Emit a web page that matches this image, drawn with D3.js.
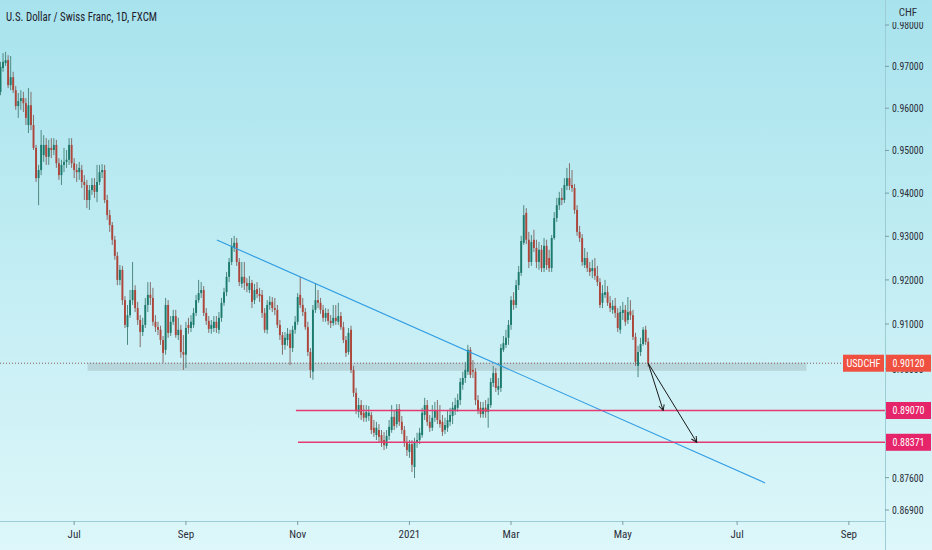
<!DOCTYPE html>
<html><head><meta charset="utf-8">
<script src="https://cdn.jsdelivr.net/npm/d3@7/dist/d3.min.js"></script>
<style>html,body{margin:0;padding:0;overflow:hidden;background:#c4eef4}</style>
</head><body><svg id="c" width="932" height="550"></svg>
<script>
// ---- data (USDCHF daily) ----
const open=[.9639,.9696,.9708,.9715,.9655,.9674,.9643,.9605,.9617,.9624,.9612,.9560,.9607,.9560,.9506,.9435,.9454,.9489,.9513,.9485,
.9506,.9501,.9513,.9470,.9442,.9466,.9473,.9478,.9513,.9470,.9454,.9449,.9454,.9426,.9419,.9384,.9407,.9419,.9403,.9426,
.9449,.9454,.9384,.9349,.9326,.9292,.9255,.9200,.9223,.9154,.9093,.9120,.9154,.9177,.9136,.9109,.9082,.9098,.9143,.9166,
.9159,.9105,.9093,.9087,.9064,.9042,.9143,.9080,.9105,.9118,.9075,.9087,.9037,.9031,.9098,.9091,.9098,.9125,.9154,.9170,
.9177,.9125,.9107,.9089,.9091,.9105,.9087,.9114,.9148,.9172,.9207,.9241,.9273,.9285,.9241,.9191,.9207,.9193,.9177,.9193,
.9154,.9179,.9168,.9166,.9125,.9087,.9143,.9150,.9136,.9132,.9098,.9075,.9053,.9064,.9078,.9046,.9087,.9105,.9166,.9143,
.9127,.9093,.9037,.8993,.9132,.9154,.9148,.9132,.9114,.9125,.9107,.9102,.9114,.9105,.9118,.9093,.9064,.9037,.9087,.8997,
.8946,.8904,.8919,.8902,.8891,.8895,.8897,.8869,.8853,.8864,.8853,.8842,.8829,.8851,.8864,.8893,.8877,.8910,.8882,.8864,
.8836,.8816,.8833,.8783,.8836,.8842,.8853,.8897,.8919,.8882,.8869,.8891,.8908,.8886,.8882,.8864,.8869,.8882,.8895,.8908,
.8913,.8930,.8964,.8979,.8993,.9042,.8997,.8993,.8930,.8913,.8899,.8913,.8904,.8919,.8968,.8990,.8953,.8957,.9042,.9053,
.9069,.9098,.9154,.9143,.9188,.9216,.9285,.9354,.9292,.9241,.9292,.9273,.9241,.9269,.9227,.9278,.9250,.9227,.9296,.9342,
.9372,.9389,.9384,.9417,.9435,.9419,.9412,.9361,.9310,.9296,.9234,.9250,.9227,.9220,.9227,.9209,.9195,.9148,.9166,.9172,
.9148,.9132,.9141,.9125,.9087,.9125,.9132,.9109,.9129,.9120,.9071,.9006,.9037,.9055,.9087,.9060];
const high=[.9711,.9732,.9735,.9727,.9725,.9687,.9653,.9636,.9643,.9639,.9624,.9648,.9639,.9584,.9513,.9466,.9548,.9536,.9529,.9525,
.9529,.9529,.9525,.9482,.9478,.9506,.9501,.9529,.9529,.9482,.9468,.9473,.9466,.9442,.9431,.9419,.9435,.9435,.9466,.9466,
.9468,.9466,.9396,.9361,.9333,.9301,.9264,.9234,.9232,.9163,.9143,.9177,.9241,.9188,.9150,.9120,.9114,.9159,.9195,.9195,
.9182,.9120,.9105,.9096,.9073,.9159,.9154,.9118,.9132,.9132,.9114,.9098,.9075,.9105,.9114,.9120,.9136,.9166,.9200,.9195,
.9186,.9136,.9118,.9109,.9118,.9118,.9127,.9159,.9182,.9218,.9250,.9296,.9301,.9296,.9250,.9241,.9241,.9204,.9209,.9200,
.9191,.9195,.9182,.9177,.9136,.9154,.9163,.9161,.9159,.9143,.9109,.9082,.9082,.9091,.9087,.9096,.9118,.9170,.9207,.9159,
.9136,.9105,.9046,.9143,.9193,.9177,.9159,.9143,.9136,.9134,.9120,.9143,.9143,.9148,.9127,.9105,.9073,.9091,.9096,.9006,
.8957,.8935,.8930,.8919,.8919,.8917,.8904,.8886,.8882,.8877,.8864,.8860,.8864,.8886,.8919,.8908,.8921,.8921,.8895,.8873,
.8851,.8842,.8842,.8847,.8858,.8869,.8913,.8935,.8930,.8897,.8919,.8926,.8930,.8919,.8897,.8891,.8908,.8913,.8926,.8935,
.8944,.8979,.8993,.9015,.9053,.9048,.9019,.9001,.8941,.8926,.8926,.8930,.8935,.8979,.9006,.9001,.8979,.9055,.9073,.9087,
.9109,.9163,.9172,.9200,.9232,.9301,.9372,.9365,.9310,.9303,.9315,.9292,.9287,.9280,.9296,.9292,.9269,.9303,.9356,.9389,
.9403,.9412,.9435,.9459,.9470,.9454,.9421,.9372,.9324,.9305,.9273,.9264,.9241,.9246,.9250,.9232,.9204,.9188,.9200,.9186,
.9163,.9154,.9159,.9136,.9141,.9150,.9143,.9161,.9154,.9132,.9080,.9051,.9069,.9093,.9096,.9069];
const low=[.9631,.9687,.9701,.9648,.9643,.9636,.9596,.9577,.9596,.9591,.9560,.9541,.9548,.9501,.9426,.9372,.9442,.9473,.9466,.9466,
.9482,.9489,.9459,.9431,.9419,.9449,.9459,.9466,.9459,.9435,.9426,.9431,.9412,.9384,.9365,.9361,.9396,.9389,.9379,.9419,
.9435,.9377,.9338,.9310,.9280,.9246,.9188,.9188,.9143,.9091,.9053,.9114,.9143,.9127,.9098,.9048,.9073,.9091,.9127,.9143,
.9096,.9082,.9075,.9053,.9013,.9031,.9069,.9073,.9098,.9069,.9064,.9024,.8997,.9001,.9078,.9082,.9091,.9118,.9148,.9159,
.9118,.9098,.9080,.9078,.9082,.9080,.9078,.9105,.9141,.9163,.9195,.9234,.9264,.9232,.9186,.9182,.9177,.9172,.9170,.9136,
.9145,.9159,.9150,.9114,.9080,.9078,.9132,.9127,.9120,.9091,.9064,.9031,.9042,.9051,.9008,.9037,.9078,.9098,.9136,.9118,
.9087,.9028,.8979,.8975,.9125,.9136,.9123,.9105,.9105,.9098,.9091,.9096,.9098,.9098,.9087,.9057,.9026,.9031,.8990,.8937,
.8899,.8891,.8886,.8882,.8882,.8884,.8855,.8849,.8842,.8838,.8827,.8820,.8823,.8842,.8858,.8864,.8869,.8873,.8855,.8827,
.8807,.8803,.8772,.8759,.8825,.8833,.8847,.8886,.8873,.8860,.8862,.8882,.8877,.8869,.8851,.8855,.8860,.8873,.8877,.8897,
.8904,.8919,.8953,.8968,.8986,.8979,.8979,.8919,.8899,.8891,.8891,.8891,.8869,.8913,.8959,.8948,.8941,.8948,.9037,.9046,
.9053,.9087,.9132,.9136,.9177,.9209,.9280,.9282,.9227,.9232,.9264,.9227,.9223,.9218,.9218,.9223,.9218,.9218,.9292,.9333,
.9361,.9372,.9377,.9407,.9407,.9403,.9352,.9301,.9287,.9232,.9227,.9218,.9209,.9204,.9200,.9186,.9136,.9136,.9159,.9141,
.9127,.9123,.9114,.9082,.9078,.9109,.9096,.9100,.9109,.9064,.9006,.8981,.9028,.9051,.9053,.9004];
const close=[.9699,.9711,.9715,.9655,.9674,.9643,.9605,.9617,.9624,.9612,.9577,.9607,.9560,.9506,.9435,.9454,.9513,.9513,.9485,.9506,
.9501,.9513,.9470,.9442,.9466,.9473,.9478,.9513,.9470,.9454,.9449,.9459,.9426,.9419,.9384,.9407,.9419,.9403,.9426,.9449,
.9454,.9384,.9349,.9326,.9292,.9255,.9200,.9223,.9154,.9098,.9120,.9154,.9177,.9136,.9109,.9082,.9098,.9143,.9166,.9159,
.9105,.9093,.9087,.9064,.9035,.9143,.9080,.9105,.9118,.9075,.9087,.9037,.9031,.9091,.9091,.9105,.9125,.9154,.9170,.9177,
.9125,.9107,.9089,.9098,.9105,.9091,.9114,.9148,.9172,.9207,.9241,.9278,.9285,.9241,.9195,.9207,.9193,.9186,.9193,.9150,
.9177,.9168,.9163,.9125,.9087,.9143,.9150,.9136,.9132,.9098,.9075,.9053,.9069,.9078,.9046,.9087,.9105,.9161,.9143,.9127,
.9093,.9037,.8997,.9132,.9154,.9148,.9132,.9114,.9125,.9107,.9102,.9114,.9107,.9118,.9093,.9064,.9035,.9080,.8997,.8946,
.8908,.8919,.8897,.8891,.8904,.8902,.8864,.8858,.8869,.8849,.8838,.8831,.8851,.8871,.8893,.8873,.8910,.8882,.8864,.8836,
.8820,.8833,.8788,.8838,.8842,.8858,.8902,.8919,.8882,.8869,.8891,.8908,.8886,.8877,.8860,.8875,.8886,.8897,.8913,.8919,
.8930,.8970,.8979,.8997,.9042,.8986,.8993,.8930,.8908,.8899,.8913,.8904,.8921,.8970,.8990,.8957,.8961,.9046,.9057,.9069,
.9098,.9154,.9143,.9188,.9218,.9289,.9349,.9292,.9241,.9287,.9273,.9241,.9269,.9227,.9278,.9234,.9227,.9296,.9342,.9372,
.9389,.9384,.9419,.9435,.9417,.9412,.9361,.9310,.9296,.9241,.9250,.9227,.9218,.9227,.9209,.9195,.9143,.9170,.9172,.9148,
.9136,.9141,.9125,.9091,.9127,.9132,.9105,.9127,.9120,.9071,.9015,.9037,.9055,.9087,.9060,.9012];

const timeLabels=["Jul","Sep","Nov","2021","Mar","May","Jul","Sep"];
const timeLabelBar=[29,73,117,161,201,245,290,334];
const priceTicks=[0.98,0.97,0.96,0.95,0.94,0.93,0.92,0.91,0.90,0.89,0.876,0.869];
const symbol="USDCHF";
const lastPrice=0.9012;
const levelPrices=[0.8907,0.88371];
const levelStartBar=[116.3,117.1];
const trendBar=[85.2,301];
const trendPrice=[0.92915,0.87485];
const zoneBar=[34.3,317.3];
const zonePrice=[0.9013,0.8995];
const arrowEndBar=[260.9,274.1];
const arrowEndPrice=[0.8907,0.88371];
const title="U.S. Dollar / Swiss Franc, 1D, FXCM";

// ---- layout ----
const W=932,H=550, axisX=885, axisY=521;
const svg=d3.select("#c");
const FONT="'Liberation Sans Narrow','Roboto Condensed','Liberation Sans',Arial,sans-serif";
const x=d3.scaleLinear().domain([0,255]).range([0.5,0.5+2.54*255]);
const y=d3.scaleLog().domain([0.869,0.98]).range([510,25]);

const defs=svg.append("defs");
const g=defs.append("linearGradient").attr("id","bg").attr("x1",0).attr("y1",0).attr("x2",0).attr("y2",1);
g.append("stop").attr("offset","0%").attr("stop-color","#a8e3ed");
g.append("stop").attr("offset","100%").attr("stop-color","#ddf7fa");
defs.append("clipPath").attr("id","plot").append("rect").attr("x",0).attr("y",0).attr("width",axisX).attr("height",axisY);
defs.append("clipPath").attr("id","scale").append("rect").attr("x",axisX).attr("y",22).attr("width",W-axisX).attr("height",axisY-22);
const mk=defs.append("marker").attr("id","ah").attr("viewBox","0 0 10 10").attr("refX",9).attr("refY",5)
  .attr("markerWidth",7).attr("markerHeight",7).attr("orient","auto").attr("markerUnits","userSpaceOnUse");
mk.append("path").attr("d","M1,1 L9,5 L1,9").attr("fill","none").attr("stroke","#1a1a1a").attr("stroke-width",1.4);

svg.append("rect").attr("width",W).attr("height",H).attr("fill","url(#bg)");

const plot=svg.append("g").attr("clip-path","url(#plot)");

// zone
plot.append("rect").attr("x",x(zoneBar[0])).attr("width",x(zoneBar[1])-x(zoneBar[0]))
  .attr("y",y(zonePrice[0])).attr("height",y(zonePrice[1])-y(zonePrice[0]))
  .attr("fill","#8f9ea6").attr("opacity",0.32);
// last price dotted line
plot.append("line").attr("x1",0).attr("x2",843).attr("y1",y(lastPrice)).attr("y2",y(lastPrice))
  .attr("stroke","#8a5a5a").attr("stroke-width",1).attr("stroke-dasharray","1,2");

// candles
const idx=d3.range(close.length);
const up=i=>close[i]>=open[i];
plot.append("g").selectAll("line").data(idx).join("line")
  .attr("x1",i=>x(i)).attr("x2",i=>x(i)).attr("y1",i=>y(high[i])).attr("y2",i=>y(low[i]))
  .attr("stroke",i=>up(i)?"#4f8a82":"#856e6a").attr("stroke-width",1);
plot.append("g").selectAll("rect").data(idx).join("rect")
  .attr("x",i=>x(i)-0.95).attr("width",1.9)
  .attr("y",i=>y(Math.max(open[i],close[i])))
  .attr("height",i=>Math.max(0.8,Math.abs(y(open[i])-y(close[i]))))
  .attr("fill",i=>up(i)?"#1b7a6c":"#ad453a");

// trend line
plot.append("line").attr("x1",x(trendBar[0])).attr("y1",y(trendPrice[0]))
  .attr("x2",x(trendBar[1])).attr("y2",y(trendPrice[1]))
  .attr("stroke","#2e9be3").attr("stroke-width",1.1);
// levels
levelPrices.forEach((p,k)=>{
  plot.append("line").attr("x1",x(levelStartBar[k])).attr("x2",axisX).attr("y1",y(p)).attr("y2",y(p))
    .attr("stroke","#e33a72").attr("stroke-width",1.5);
});
// arrows
arrowEndBar.forEach((b,k)=>{
  plot.append("line").attr("x1",x(255)).attr("y1",y(lastPrice)).attr("x2",x(b)).attr("y2",y(arrowEndPrice[k]))
    .attr("stroke","#1a1a1a").attr("stroke-width",1).attr("marker-end","url(#ah)");
});

// axes
svg.append("line").attr("x1",axisX+0.5).attr("x2",axisX+0.5).attr("y1",0).attr("y2",H).attr("stroke","#9ccdd5");
svg.append("line").attr("x1",0).attr("x2",axisX).attr("y1",axisY+0.5).attr("y2",axisY+0.5).attr("stroke","#9ccdd5");

const fmt=d3.format(".5f");
const pt=svg.append("g").attr("clip-path","url(#scale)");
priceTicks.forEach(p=>{
  pt.append("line").attr("x1",axisX).attr("x2",axisX+4).attr("y1",y(p)).attr("y2",y(p)).attr("stroke","#7a9ea4");
  pt.append("text").attr("x",892).attr("y",y(p)+4).text(fmt(p))
    .attr("font-family",FONT).attr("font-size",11).attr("fill","#2a2e39")
    .attr("textLength",31.5).attr("lengthAdjust","spacingAndGlyphs");
});
svg.append("text").attr("x",908).attr("y",16).attr("text-anchor","middle").text("CHF")
  .attr("font-family",FONT).attr("font-size",11).attr("fill","#2a2e39");

const tt=svg.append("g");
timeLabels.forEach((t,k)=>{
  const xx=x(timeLabelBar[k]);
  tt.append("line").attr("x1",xx).attr("x2",xx).attr("y1",axisY).attr("y2",axisY+4).attr("stroke","#7a9ea4");
  tt.append("text").attr("x",xx).attr("y",538).attr("text-anchor","middle").text(t)
    .attr("font-family",FONT).attr("font-size",11).attr("fill","#2a2e39");
});

// price boxes
function box(x0,w,p,fill,label){
  const yy=y(p);
  svg.append("rect").attr("x",x0).attr("y",yy-8.5).attr("width",w).attr("height",17).attr("fill",fill);
  svg.append("text").attr("x",x0+w/2).attr("y",yy+4).attr("text-anchor","middle").text(label)
    .attr("font-family",FONT).attr("font-size",11).attr("fill","#ffffff")
    .attr("textLength",label.length>6?32:34).attr("lengthAdjust","spacingAndGlyphs");
}
box(843,41,lastPrice,"#ef5040",symbol);
box(886,45,lastPrice,"#ef5040",fmt(lastPrice));
levelPrices.forEach(p=>box(886,45,p,"#e5246a",fmt(p)));

// title
svg.append("text").attr("x",6).attr("y",21).text(title)
  .attr("font-family",FONT).attr("font-size",13).attr("fill","#1e222d")
  .attr("textLength",151).attr("lengthAdjust","spacingAndGlyphs");
</script></body></html>
